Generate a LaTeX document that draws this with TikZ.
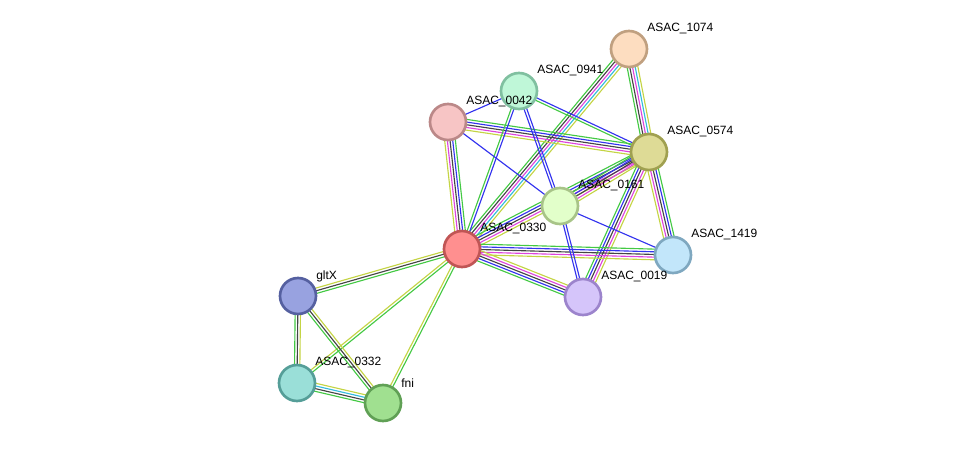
\documentclass[tikz,border=0pt]{standalone}
\usepackage{fontspec}
\setmainfont{Liberation Sans}
\usetikzlibrary{calc}

\definecolor{egreen}{HTML}{44C944}
\definecolor{eblue}{HTML}{3333EE}
\definecolor{eblack}{HTML}{444444}
\definecolor{emagenta}{HTML}{DD44DD}
\definecolor{ecyan}{HTML}{33BBDD}
\definecolor{eyellow}{HTML}{C4D444}

\tikzset{
  prot/.style={circle, draw, line width=2pt, minimum size=27pt, inner sep=0pt},
  plabel/.style={anchor=west, inner sep=0pt, font=\fontsize{9}{11}\selectfont},
  evid/.style={line width=0.85pt},
}

% one coloured line per kind of evidence, side by side
\newcommand{\link}[3]{%
  \edef\linkset{#3}%
  \foreach \o/\c in \linkset
    \draw[evid, \c] ($(#1)!\o pt!90:(#2)$) -- ($(#2)!\o pt!-90:(#1)$);
}
\def\fullset{4/egreen,2/eblue,0/eblack,-2/emagenta,-4/eyellow}
\def\dataset{4/egreen,2/eblack,0/emagenta,-2/ecyan,-4/eyellow}

\begin{document}
\begin{tikzpicture}[x=0.75pt, y=-0.75pt]
            \useasboundingbox (0,0) rectangle (976,449);
            \coordinate (n1074) at (629,49);
            \coordinate (n0941) at (519,91);
            \coordinate (n0042) at (448,122);
            \coordinate (n0574) at (649,152);
            \coordinate (n0161) at (560,206);
            \coordinate (n0330) at (462,249);
            \coordinate (n1419) at (673,255);
            \coordinate (n0019) at (583,297);
            \coordinate (ngltX) at (298,296);
            \coordinate (n0332) at (297,383);
            \coordinate (nfni) at (383,403);
            % edges
            \link{n0574}{n1074}{\dataset}
            \link{n0330}{n1074}{\dataset}
            \link{n0042}{n0574}{\fullset}
            \link{n0042}{n0330}{\fullset}
            \link{n0330}{n0574}{\fullset}
            \link{n0161}{n0574}{\fullset}
            \link{n0019}{n0574}{\fullset}
            \link{n0574}{n1419}{\fullset}
            \link{n0330}{n1419}{\fullset}
            \link{n0019}{n0330}{\fullset}
            \link{n0941}{n0330}{1/eblue,-1/egreen}
            \link{n0941}{n0574}{1/eblue,-1/egreen}
            \link{n0941}{n0161}{1/eblue,-1/eblue}
            \link{n0161}{n0019}{1/eblue,-1/eblue}
            \link{n0042}{n0941}{0/eblue}
            \link{n0042}{n0161}{0/eblue}
            \link{n0161}{n1419}{0/eblue}
            \link{n0330}{ngltX}{2/egreen,0/eblack,-2/eyellow}
            \link{n0330}{n0332}{1/egreen,-1/eyellow}
            \link{n0330}{nfni}{1/egreen,-1/eyellow}
            \link{ngltX}{n0332}{2/eyellow,0/eblack,-2/egreen}
            \link{ngltX}{nfni}{2/eyellow,0/eblack,-2/egreen}
            \link{n0332}{nfni}{3/eyellow,1/ecyan,-1/eblack,-3/egreen}
            % proteins
            \node[prot, draw={rgb,255:red,192;green,160;blue,128}, fill={rgb,255:red,253;green,221;blue,192}] (p1074) at (n1074) {};
            \node[prot, draw={rgb,255:red,128;green,192;blue,160}, fill={rgb,255:red,191;green,247;blue,216}] (p0941) at (n0941) {};
            \node[prot, draw={rgb,255:red,187;green,136;blue,136}, fill={rgb,255:red,247;green,197;blue,197}] (p0042) at (n0042) {};
            \node[prot, draw={rgb,255:red,160;green,160;blue,80}, fill={rgb,255:red,222;green,219;blue,150}] (p0574) at (n0574) {};
            \node[prot, draw={rgb,255:red,168;green,196;blue,136}, fill={rgb,255:red,226;green,255;blue,202}] (p0161) at (n0161) {};
            \node[prot, draw={rgb,255:red,192;green,85;blue,85}, fill={rgb,255:red,255;green,143;blue,143}] (p0330) at (n0330) {};
            \node[prot, draw={rgb,255:red,127;green,168;blue,192}, fill={rgb,255:red,194;green,230;blue,250}] (p1419) at (n1419) {};
            \node[prot, draw={rgb,255:red,156;green,132;blue,204}, fill={rgb,255:red,213;green,197;blue,250}] (p0019) at (n0019) {};
            \node[prot, draw={rgb,255:red,85;green,96;blue,160}, fill={rgb,255:red,152;green,162;blue,224}] (pgltX) at (ngltX) {};
            \node[prot, draw={rgb,255:red,85;green,158;blue,152}, fill={rgb,255:red,154;green,223;blue,216}] (p0332) at (n0332) {};
            \node[prot, draw={rgb,255:red,96;green,160;blue,85}, fill={rgb,255:red,160;green,224;blue,144}] (pfni) at (nfni) {};
            % names
            \node[plabel] (l1074) at ($(n1074)+(18,-20)$) {ASAC\_1074};
            \node[plabel] (l0941) at ($(n0941)+(18,-20)$) {ASAC\_0941};
            \node[plabel] (l0042) at ($(n0042)+(18,-20)$) {ASAC\_0042};
            \node[plabel] (l0574) at ($(n0574)+(18,-20)$) {ASAC\_0574};
            \node[plabel] (l0161) at ($(n0161)+(18,-20)$) {ASAC\_0161};
            \node[plabel] (l0330) at ($(n0330)+(18,-20)$) {ASAC\_0330};
            \node[plabel] (l1419) at ($(n1419)+(18,-20)$) {ASAC\_1419};
            \node[plabel] (l0019) at ($(n0019)+(18,-20)$) {ASAC\_0019};
            \node[plabel] (lgltX) at ($(ngltX)+(18,-20)$) {gltX};
            \node[plabel] (l0332) at ($(n0332)+(18,-20)$) {ASAC\_0332};
            \node[plabel] (lfni) at ($(nfni)+(18,-20)$) {fni};
\end{tikzpicture}
\end{document}
